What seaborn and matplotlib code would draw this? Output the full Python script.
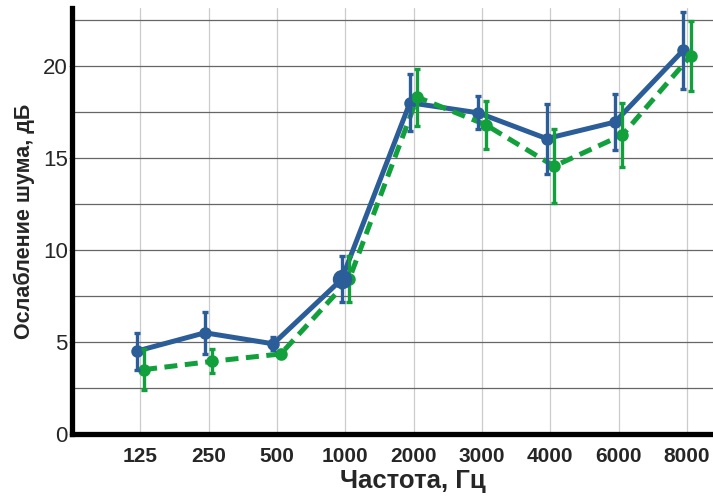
import numpy as np
import pandas as pd
import matplotlib
matplotlib.use("Agg")
import matplotlib.pyplot as plt
from matplotlib.ticker import MultipleLocator
import seaborn as sns

# Octave-band frequencies, Hz
freqs = ["125", "250", "500", "1000", "2000", "3000", "4000", "6000", "8000"]

# Mean noise attenuation and its spread, dB
blue_mean = [4.5, 5.5, 4.9, 8.4, 18.0, 17.45, 16.05, 16.95, 20.85]
blue_err = [1.0, 1.15, 0.35, 1.25, 1.55, 0.9, 1.9, 1.5, 2.1]
green_mean = [3.5, 3.95, 4.35, 8.4, 18.3, 16.8, 14.55, 16.25, 20.55]
green_err = [1.1, 0.65, 0.2, 1.25, 1.55, 1.3, 2.0, 1.73, 1.9]

BLUE = "#2b5d98"
GREEN = "#12a03c"
FONT = ["Liberation Sans", "DejaVu Sans"]

sns.set_theme(style="white")
plt.rcParams["font.family"] = FONT

pos = np.arange(len(freqs))
shift = 0.055
df = pd.concat([
    pd.DataFrame({"x": pos - shift, "y": blue_mean, "err": blue_err, "series": "A"}),
    pd.DataFrame({"x": pos + shift, "y": green_mean, "err": green_err, "series": "B"}),
])

fig = plt.figure(figsize=(7.13, 4.96), dpi=100)
ax = fig.add_axes([0.101, 0.125, 0.899, 0.859])

sns.lineplot(data=df, x="x", y="y", hue="series", style="series",
             palette={"A": BLUE, "B": GREEN},
             dashes={"A": "", "B": (2.6, 1.5)},
             markers={"A": "o", "B": "o"}, markersize=9, markeredgewidth=0,
             linewidth=3.6, legend=False, ax=ax, zorder=3)

for name, color in (("A", BLUE), ("B", GREEN)):
    sub = df[df["series"] == name]
    ax.errorbar(sub["x"], sub["y"], yerr=sub["err"], fmt="none",
                ecolor=color, elinewidth=2.4, capsize=2.5, capthick=2.4,
                zorder=4)

# emphasised point at 1000 Hz
b1000 = df[(df["series"] == "A")].iloc[3]
ax.plot(b1000["x"], b1000["y"], "o", color=BLUE, markersize=14,
        markeredgewidth=0, zorder=5)

ax.set_xlim(-1, 8.38)
ax.set_ylim(0, 23.15)
ax.set_xticks(pos)
ax.set_xticklabels(freqs, fontsize=15, fontweight="bold")
ax.yaxis.set_major_locator(MultipleLocator(5))
ax.yaxis.set_minor_locator(MultipleLocator(2.5))
ax.tick_params(axis="y", which="major", labelsize=16, length=2, width=0.8,
               color="#999999", pad=1, left=True)
ax.tick_params(axis="y", which="minor", length=0)
ax.tick_params(axis="x", length=0, pad=9)

ax.grid(True, axis="y", which="both", color="#666666", linewidth=0.9)
ax.grid(True, axis="x", which="major", color="#cccccc", linewidth=0.9)
ax.set_axisbelow(True)

for side in ("top", "right"):
    ax.spines[side].set_visible(False)
for side in ("left", "bottom"):
    ax.spines[side].set_color("black")
    ax.spines[side].set_linewidth(3.8)

ax.set_xlabel("Частота, Гц", fontsize=18.5, fontweight="bold")
ax.set_ylabel("Ослабление шума, дБ", fontsize=15.5, fontweight="bold",
              labelpad=6)
ax.xaxis.set_label_coords(0.532, -0.083)

fig.savefig("out.png", dpi=100)
